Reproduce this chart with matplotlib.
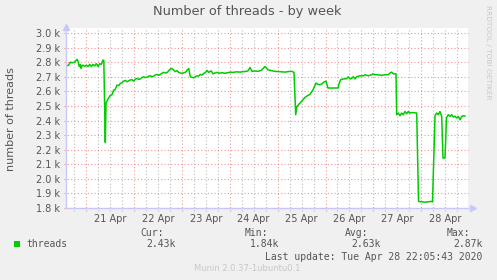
import matplotlib
matplotlib.use("Agg")
import matplotlib.pyplot as plt
from matplotlib.patches import Rectangle
import matplotlib.transforms as mtransforms

# ---- data (x = days since 20 Apr 00:00, y = thousands of threads) ----
days = [0.603, 0.639, 0.672, 0.722, 0.764, 0.791, 0.812, 0.833, 0.860, 0.881,
        0.896, 0.916, 0.937, 0.973, 1.006, 1.042, 1.077, 1.111, 1.146, 1.182,
        1.215, 1.251, 1.286, 1.319, 1.355, 1.372, 1.403, 1.418, 1.459, 1.501,
        1.543, 1.578, 1.605, 1.647, 1.683, 1.716, 1.752, 1.787, 1.820, 1.856,
        1.891, 1.925, 1.960, 1.996, 2.029, 2.065, 2.100, 2.134, 2.169, 2.205,
        2.238, 2.273, 2.309, 2.342, 2.378, 2.413, 2.447, 2.482, 2.518, 2.551,
        2.587, 2.622, 2.656, 2.691, 2.727, 2.760, 2.795, 2.831, 2.864, 2.900,
        2.935, 2.969, 3.004, 3.040, 3.073, 3.109, 3.144, 3.177, 3.213, 3.248,
        3.282, 3.317, 3.353, 3.386, 3.422, 3.457, 3.491, 3.526, 3.562, 3.589,
        3.616, 3.651, 3.693, 3.735, 3.787, 3.839, 3.902, 3.965, 4.017, 4.069,
        4.142, 4.215, 4.278, 4.340, 4.382, 4.424, 4.466, 4.528, 4.591, 4.664,
        4.737, 4.800, 4.873, 4.946, 5.050, 5.155, 5.228, 5.301, 5.342, 5.378,
        5.405, 5.468, 5.520, 5.572, 5.624, 5.676, 5.739, 5.802, 5.843, 5.885,
        5.927, 5.969, 6.010, 6.052, 6.261, 6.288, 6.317, 6.372, 6.443, 6.476,
        6.512, 6.547, 6.580, 6.616, 6.651, 6.720, 6.789, 6.825, 6.894, 6.965,
        6.985, 7.033, 7.102, 7.173, 7.242, 7.311, 7.347, 7.382, 7.415, 7.472,
        7.486, 7.520, 7.555, 7.591, 7.624, 7.660, 7.695, 7.729, 7.764, 7.800,
        7.904, 7.942, 8.077, 8.203, 8.234, 8.286, 8.322, 8.355, 8.390, 8.426,
        8.453, 8.495, 8.526, 8.564, 8.599, 8.635, 8.668, 8.704, 8.739, 8.773,
        8.808, 8.843, 8.877, 8.912]
threads = [2.776, 2.78, 2.80, 2.796, 2.80, 2.812, 2.82, 2.808, 2.77, 2.785,
           2.758, 2.775, 2.78, 2.77, 2.78, 2.77, 2.785, 2.77, 2.785, 2.774,
           2.79, 2.77, 2.79, 2.785, 2.815, 2.81, 2.25, 2.52, 2.547, 2.57,
           2.577, 2.609, 2.61, 2.643, 2.64, 2.654, 2.66, 2.67, 2.675, 2.666,
           2.672, 2.678, 2.68, 2.67, 2.683, 2.689, 2.682, 2.685, 2.695, 2.70,
           2.694, 2.698, 2.704, 2.707, 2.70, 2.705, 2.712, 2.716, 2.71, 2.716,
           2.724, 2.73, 2.726, 2.728, 2.742, 2.753, 2.757, 2.745, 2.735, 2.742,
           2.73, 2.726, 2.723, 2.728, 2.73, 2.745, 2.757, 2.70, 2.696, 2.693,
           2.70, 2.707, 2.705, 2.716, 2.712, 2.723, 2.728, 2.744, 2.73, 2.737,
           2.74, 2.72, 2.726, 2.73, 2.724, 2.728, 2.724, 2.728, 2.732, 2.73,
           2.734, 2.732, 2.735, 2.737, 2.74, 2.764, 2.737, 2.74, 2.737, 2.745,
           2.771, 2.748, 2.742, 2.737, 2.735, 2.732, 2.736, 2.737, 2.73, 2.44,
           2.497, 2.52, 2.54, 2.558, 2.57, 2.58, 2.61, 2.657, 2.648, 2.645,
           2.652, 2.664, 2.67, 2.623, 2.623, 2.657, 2.68, 2.685, 2.687, 2.70,
           2.685, 2.69, 2.70, 2.685, 2.70, 2.707, 2.707, 2.714, 2.707, 2.714,
           2.72, 2.714, 2.714, 2.71, 2.714, 2.714, 2.726, 2.732, 2.72, 2.72,
           2.44, 2.451, 2.433, 2.451, 2.44, 2.462, 2.446, 2.462, 2.451, 2.455,
           2.451, 1.845, 1.84, 1.845, 1.842, 2.433, 2.451, 2.44, 2.462, 2.428,
           2.143, 2.143, 2.42, 2.44, 2.428, 2.44, 2.424, 2.43, 2.417, 2.428,
           2.405, 2.428, 2.433, 2.43]
thread_values = [v * 1000 for v in threads]

day_labels = ["21 Apr", "22 Apr", "23 Apr", "24 Apr", "25 Apr", "26 Apr", "27 Apr", "28 Apr"]
y_ticks = [1800, 1900, 2000, 2100, 2200, 2300, 2400, 2500, 2600, 2700, 2800, 2900, 3000]
y_labels = ["1.8 k", "1.9 k", "2.0 k", "2.1 k", "2.2 k", "2.3 k", "2.4 k", "2.5 k",
            "2.6 k", "2.7 k", "2.8 k", "2.9 k", "3.0 k"]
legend_name = "threads"
stats_heads = ["Cur:", "Min:", "Avg:", "Max:"]
stats_vals = ["2.43k", "1.84k", "2.63k", "2.87k"]

W, H = 497, 280
fig = plt.figure(figsize=(W / 100, H / 100), dpi=100, facecolor="#F0F0F0")
L, R, T, B = 66, 468, 28, 208
ax = fig.add_axes([L / W, 1 - B / H, (R - L) / W, (B - T) / H])
ax.set_facecolor("white")

x0 = 1 + (L - 86) / 47.9
x1 = 1 + (R - 86) / 47.9
ax.set_xlim(x0, x1)
ymax = 1800 + (B - T) / 145.8 * 1000
ax.set_ylim(1800, ymax)

red = (0.93, 0.45, 0.45, 0.75)
grey = (0.72, 0.72, 0.72, 0.9)
dots = (0, (1, 2))
blend_x = mtransforms.blended_transform_factory(ax.transData, ax.transAxes)
blend_y = mtransforms.blended_transform_factory(ax.transAxes, ax.transData)
ext_y = 2.5 / (B - T)
ext_x = 2.5 / (R - L)

# vertical grid: every 6 h, red at midnight
q = 0
while q / 4 <= x1:
    xv = q / 4
    if xv >= x0:
        c = red if q % 4 == 0 else grey
        ax.plot([xv, xv], [-ext_y, 1], transform=blend_x, color=c, lw=0.8,
                ls=dots, clip_on=False, zorder=1)
    q += 1
for yv in y_ticks:
    ax.plot([-ext_x, 1], [yv, yv], transform=blend_y, color=red, lw=0.8,
            ls=dots, clip_on=False, zorder=1)

ax.plot(days, thread_values, color="#00CC00", lw=1.1, zorder=3)

for s in ["top", "right"]:
    ax.spines[s].set_visible(False)
axis_col = "#C8C8F8"
for s in ["left", "bottom"]:
    ax.spines[s].set_color(axis_col)
    ax.spines[s].set_linewidth(1.0)
    ax.spines[s].set_zorder(4)
ax.plot([0], [1.005], marker="^", ms=4, color=axis_col, transform=ax.transAxes,
        clip_on=False, zorder=5)
ax.plot([1.012], [0], marker=">", ms=4, color=axis_col, transform=ax.transAxes,
        clip_on=False, zorder=5)

txt = "#555555"
ax.set_xticks([i + 1.5 for i in range(len(day_labels))])
ax.set_xticklabels(day_labels)
ax.set_yticks(y_ticks)
ax.set_yticklabels(y_labels)
ax.tick_params(axis="both", length=0, labelsize=7, labelcolor=txt)
ax.tick_params(axis="x", pad=4)
ax.tick_params(axis="y", pad=4.5)

fig.text(247.5 / W, 1 - 12 / H, "Number of threads - by week", ha="center", va="center",
         fontsize=9.3, color=txt)
fig.text(11 / W, 1 - 119 / H, "number of threads", ha="center", va="center",
         rotation=90, fontsize=8, color=txt)
fig.text(488 / W, 1 - 5 / H, "RRDTOOL / TOBI OETIKER", ha="center", va="top",
         rotation=-90, fontsize=5.3, color="#C8C8C8")

fig.patches.append(Rectangle((14 / W, 1 - 247 / H), 6 / W, 6 / H, transform=fig.transFigure,
                             facecolor="#00CC00", edgecolor="none"))
mono = "DejaVu Sans Mono"
fig.text(26.7 / W, 1 - 244.3 / H, legend_name, ha="left", va="center", fontsize=7,
         family=mono, color=txt)
head_x = [140, 245, 345, 446.7]
val_x = [146.7, 250, 351, 453.3]
for hx, vx, h, v in zip(head_x, val_x, stats_heads, stats_vals):
    fig.text(hx / W, 1 - 232.7 / H, h, ha="left", va="center", fontsize=7, family=mono, color=txt)
    fig.text(vx / W, 1 - 244.3 / H, v, ha="left", va="center", fontsize=7, family=mono, color=txt)
fig.text(482.3 / W, 1 - 256.7 / H, "Last update: Tue Apr 28 22:05:43 2020", ha="right",
         va="center", fontsize=7, family=mono, color=txt)
fig.text(247.5 / W, 1 - 268.5 / H, "Munin 2.0.37-1ubuntu0.1", ha="center", va="center",
         fontsize=6, color="#C8C8C8")

fig.savefig("out.png", dpi=100, facecolor=fig.get_facecolor())
